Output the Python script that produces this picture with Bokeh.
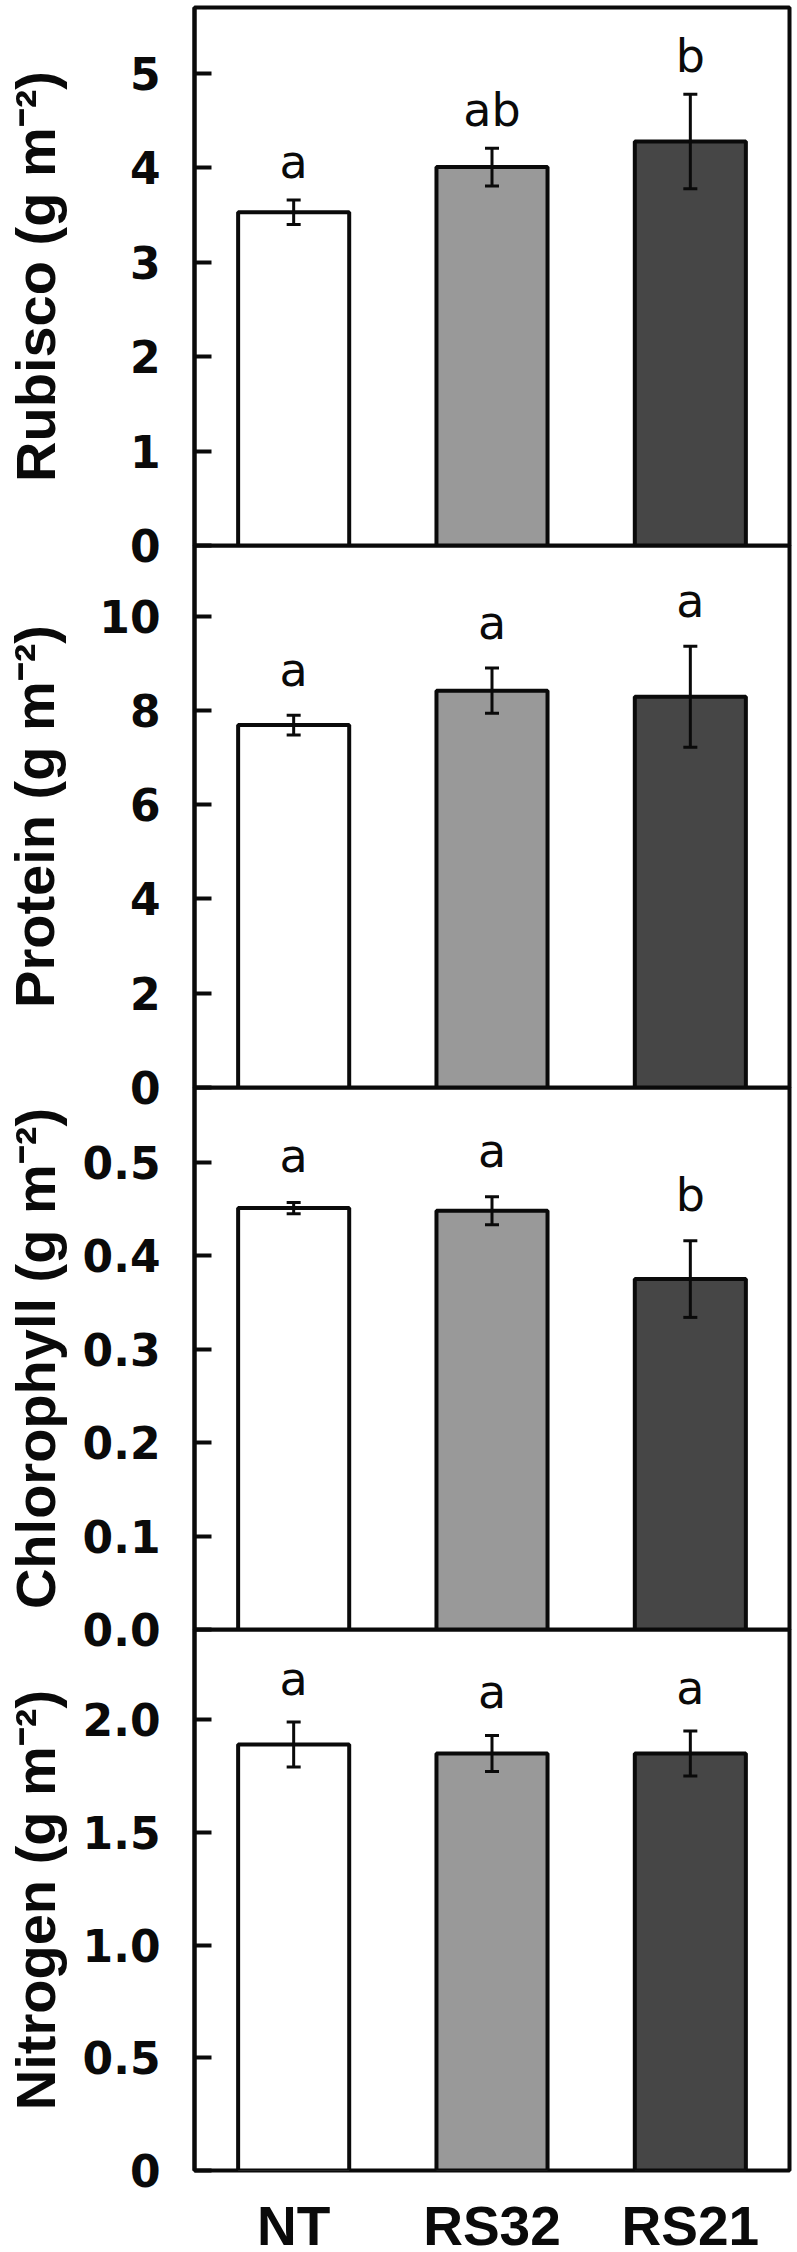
from bokeh.plotting import figure
from bokeh.layouts import column
from bokeh.models import (ColumnDataSource, Range1d, FixedTicker, Whisker, TeeHead,
                          CustomJSTickFormatter)
from bokeh.core.properties import value
from bokeh.embed import file_html
from bokeh.resources import INLINE

# ---------------- data ----------------
categories = ["NT", "RS32", "RS21"]
bar_colors = ["#ffffff", "#999999", "#464646"]

rubisco = [3.53, 4.01, 4.28]
rubisco_se = [0.13, 0.20, 0.50]
rubisco_letters = ["a", "ab", "b"]
rubisco_ticks = [0, 1, 2, 3, 4, 5]
rubisco_tick_labels = ["0", "1", "2", "3", "4", "5"]

protein = [7.69, 8.42, 8.29]
protein_se = [0.21, 0.48, 1.07]
protein_letters = ["a", "a", "a"]
protein_ticks = [0, 2, 4, 6, 8, 10]
protein_tick_labels = ["0", "2", "4", "6", "8", "10"]

chlorophyll = [0.451, 0.448, 0.375]
chlorophyll_se = [0.006, 0.015, 0.041]
chlorophyll_letters = ["a", "a", "b"]
chlorophyll_ticks = [0, 0.1, 0.2, 0.3, 0.4, 0.5]
chlorophyll_tick_labels = ["0.0", "0.1", "0.2", "0.3", "0.4", "0.5"]

nitrogen = [1.89, 1.85, 1.85]
nitrogen_se = [0.10, 0.08, 0.10]
nitrogen_letters = ["a", "a", "a"]
nitrogen_ticks = [0, 0.5, 1.0, 1.5, 2.0]
nitrogen_tick_labels = ["0", "0.5", "1.0", "1.5", "2.0"]

y_labels = ["Rubisco (g m\u207b\u00b2)", "Protein (g m\u207b\u00b2)",
            "Chlorophyll (g m\u207b\u00b2)", "Nitrogen (g m\u207b\u00b2)"]
y_max = [5.70, 11.5, 0.58, 2.40]

INK = "#0a0a0a"
OVERLAP = 34   # bottom border of a panel that the next panel is drawn over


def make_panel(vals, se, letters, ticks, tick_labels, ymax, ylabel,
               label_standoff, letter_offset, frame_h, border_top,
               border_bottom, margin, show_x):
    src = ColumnDataSource(dict(
        cat=categories, val=vals,
        upper=[v + s for v, s in zip(vals, se)],
        lower=[v - s for v, s in zip(vals, se)],
        letter=letters, color=bar_colors))
    p = figure(x_range=categories, y_range=Range1d(0, ymax),
               frame_width=595, frame_height=frame_h, output_backend="svg",
               toolbar_location=None,
               min_border_left=193, min_border_right=9,
               min_border_top=border_top, min_border_bottom=border_bottom,
               margin=margin,
               border_fill_color=None, background_fill_color=None,
               outline_line_color=INK, outline_line_width=4)
    p.xgrid.visible = False
    p.ygrid.visible = False

    p.vbar(x="cat", top="val", width=0.56, source=src, fill_color="color",
           line_color=INK, line_width=4)
    w = Whisker(source=src, base="cat", upper="upper", lower="lower",
                line_color=INK, line_width=3, level="overlay",
                upper_head=TeeHead(size=14, line_width=3, line_color=INK),
                lower_head=TeeHead(size=14, line_width=3, line_color=INK))
    p.add_layout(w)
    p.text(x="cat", y="upper", text="letter", source=src,
           text_font=value("DejaVu Sans"), text_font_size="46px",
           text_align="center", text_baseline="alphabetic",
           y_offset=-letter_offset, text_color=INK)

    ax = p.yaxis[0]
    ax.ticker = FixedTicker(ticks=ticks, minor_ticks=[])
    ax.formatter = CustomJSTickFormatter(
        args=dict(tv=ticks, tl=tick_labels),
        code="""
        for (let i = 0; i < tv.length; i++) {
            if (Math.abs(tv[i] - tick) < 1e-9) { return tl[i]; }
        }
        return '';
        """)
    ax.major_tick_in = 17
    ax.major_tick_out = 0
    ax.major_tick_line_width = 4
    ax.major_tick_line_color = INK
    ax.minor_tick_line_color = None
    ax.axis_line_color = INK
    ax.axis_line_width = 4
    ax.major_label_standoff = 34
    ax.major_label_text_font = "DejaVu Sans"
    ax.major_label_text_font_style = "bold"
    ax.major_label_text_font_size = "44px"
    ax.major_label_text_color = INK
    ax.axis_label = ylabel
    ax.axis_label_text_font = "Liberation Sans"
    ax.axis_label_text_font_style = "bold"
    ax.axis_label_text_font_size = "56px"
    ax.axis_label_text_color = INK
    ax.axis_label_standoff = label_standoff

    xa = p.xaxis[0]
    if show_x:
        xa.major_tick_line_color = None
        xa.minor_tick_line_color = None
        xa.axis_line_color = None
        xa.major_label_standoff = 18
        xa.major_label_text_font = "Liberation Sans"
        xa.major_label_text_font_style = "bold"
        xa.major_label_text_font_size = "55px"
        xa.major_label_text_color = INK
    else:
        xa.visible = False
    return p


# label standoffs keep every y-axis title at the same x position
p1 = make_panel(rubisco, rubisco_se, rubisco_letters, rubisco_ticks,
                rubisco_tick_labels, y_max[0], y_labels[0], 60, 38,
                538, 7, OVERLAP, None, False)
p2 = make_panel(protein, protein_se, protein_letters, protein_ticks,
                protein_tick_labels, y_max[1], y_labels[1], 30, 45,
                542, 0, OVERLAP, (-OVERLAP, 0, 0, 0), False)
p3 = make_panel(chlorophyll, chlorophyll_se, chlorophyll_letters,
                chlorophyll_ticks, chlorophyll_tick_labels, y_max[2],
                y_labels[2], 13, 46, 542, 0, OVERLAP, (-OVERLAP, 0, 0, 0),
                False)
p4 = make_panel(nitrogen, nitrogen_se, nitrogen_letters, nitrogen_ticks,
                nitrogen_tick_labels, y_max[3], y_labels[3], 13, 43,
                541, 0, 82, (-OVERLAP, 0, 0, 0), True)

layout = column(p1, p2, p3, p4, spacing=0)

with open("out.html", "w") as f:
    f.write(file_html(layout, INLINE))
